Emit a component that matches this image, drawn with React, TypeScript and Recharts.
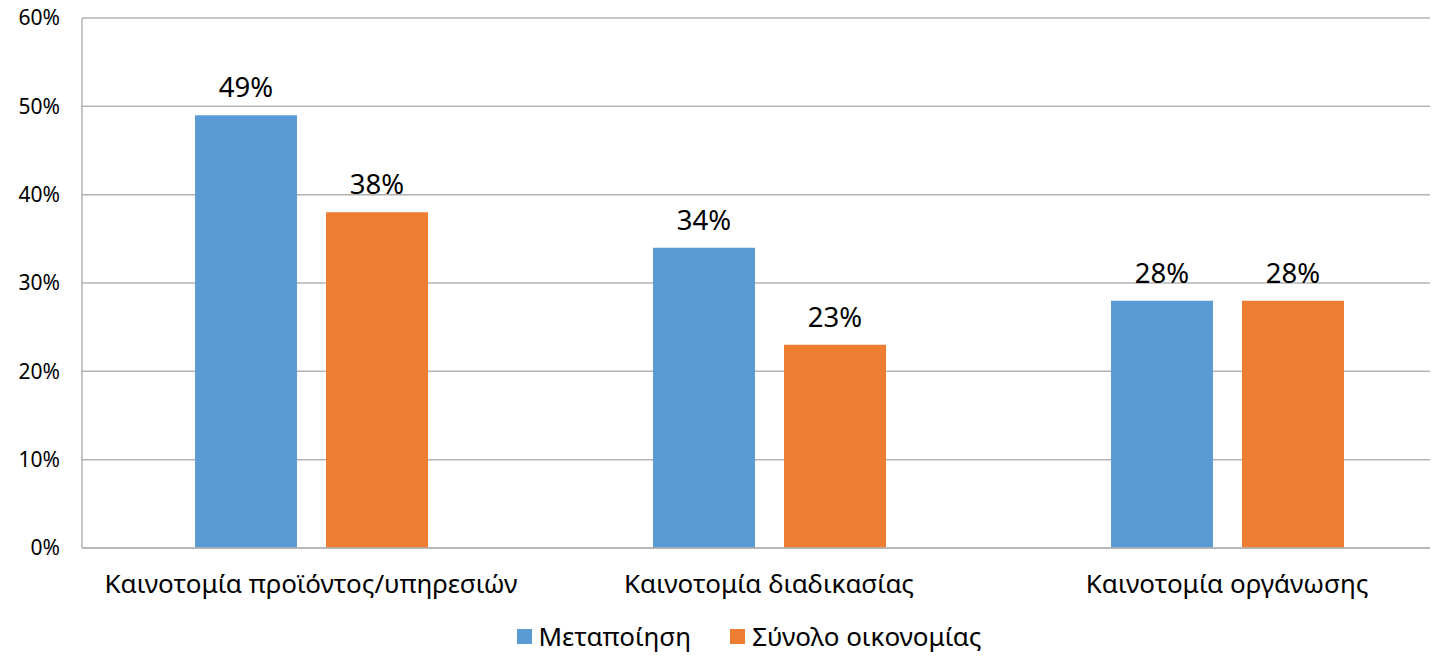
import React from "react";
import {
  BarChart,
  Bar,
  XAxis,
  YAxis,
  CartesianGrid,
  Legend,
  LabelList,
} from "recharts";

const categories = [
  "Καινοτομία προϊόντος/υπηρεσιών",
  "Καινοτομία διαδικασίας",
  "Καινοτομία οργάνωσης",
];
const manufacturing = [49, 34, 28];
const economy = [38, 23, 28];
const yTicks = [0, 10, 20, 30, 40, 50, 60];
const seriesNames = ["Μεταποίηση", "Σύνολο οικονομίας"];
const colors = ["#5B9BD5", "#ED7D31"];

const data = categories.map((c, i) => ({
  name: c,
  a: manufacturing[i],
  b: economy[i],
}));

const FONT = "'Noto Sans', 'Open Sans', sans-serif";

const LegendContent = () => (
  <div
    style={{
      display: "flex",
      justifyContent: "center",
      alignItems: "center",
      boxSizing: "border-box",
      height: 40,
      fontFamily: FONT,
      fontSize: 26,
      lineHeight: "30px",
      color: "#000",
      paddingLeft: 34,
      paddingBottom: 6,
    }}
  >
    {seriesNames.map((n, i) => (
      <div
        key={n}
        style={{ display: "flex", alignItems: "center", marginRight: i === 0 ? 39 : 0 }}
      >
        <span
          style={{
            display: "inline-block",
            width: 15,
            height: 15,
            background: colors[i],
            marginRight: 7,
          }}
        />
        <span>{n}</span>
      </div>
    ))}
  </div>
);

export default function App() {
  return (
    <div style={{ width: 1430, height: 659, overflow: "hidden", marginTop: -8 }}>
      <BarChart
        width={1448}
        height={659}
        data={data}
        margin={{ top: 18, right: 0, bottom: 0, left: 0 }}
        barSize={102}
        barGap={29}
      >
        <CartesianGrid vertical={false} stroke="#b3b3b3" strokeWidth={1.5} />
        <XAxis
          dataKey="name"
          height={71}
          tickLine={false}
          tickSize={0}
          tickMargin={27}
          axisLine={{ stroke: "#b3b3b3", strokeWidth: 1.5 }}
          tick={{ fill: "#000", fontSize: 26, fontFamily: FONT }}
          interval={0}
        />
        <YAxis
          width={74}
          domain={[0, 60]}
          ticks={yTicks}
          tickFormatter={(v) => `${v}%`}
          tickLine={false}
          tickSize={6}
          tickMargin={16}
          axisLine={{ stroke: "#b3b3b3", strokeWidth: 1.5 }}
          tick={{ fill: "#000", fontSize: 21, fontFamily: FONT }}
          interval={0}
        />
        <Legend verticalAlign="bottom" content={<LegendContent />} />
        <Bar dataKey="a" name={seriesNames[0]} fill={colors[0]} isAnimationActive={false}>
          <LabelList
            dataKey="a"
            position="top"
            offset={18}
            formatter={(v: number) => `${v}%`}
            style={{ fill: "#000", fontSize: 27.5, fontFamily: FONT }}
          />
        </Bar>
        <Bar dataKey="b" name={seriesNames[1]} fill={colors[1]} isAnimationActive={false}>
          <LabelList
            dataKey="b"
            position="top"
            offset={18}
            formatter={(v: number) => `${v}%`}
            style={{ fill: "#000", fontSize: 27.5, fontFamily: FONT }}
          />
        </Bar>
      </BarChart>
    </div>
  );
}
